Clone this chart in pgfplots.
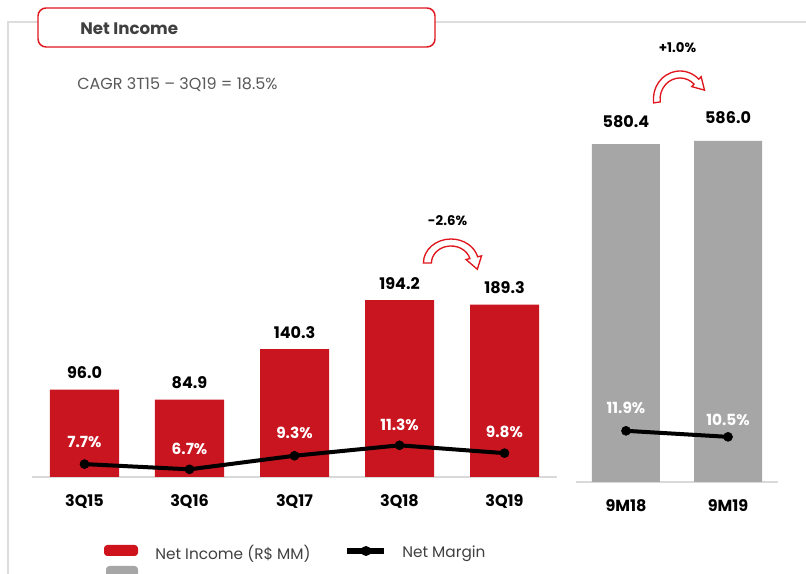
\documentclass[border=0pt]{standalone}
\usepackage{pgfplots}
\pgfplotsset{compat=1.18}
\usepackage{pgfplotstable}
\usepackage{fontspec}
\setmainfont{Poppins}
\definecolor{barred}{HTML}{C8151F}
\definecolor{linered}{HTML}{E0161E}
\definecolor{bargray}{HTML}{A6A6A6}
\definecolor{basegray}{HTML}{D9D9D9}
\definecolor{framegray}{HTML}{DDDDDD}
\definecolor{titlegray}{HTML}{404040}
\definecolor{textgray}{HTML}{595959}
\newcommand\lab{\fontsize{12}{14}\selectfont\bfseries}
\newcommand\plab{\fontsize{11.5}{13}\selectfont\bfseries}

\pgfplotstableread{
x y off
0 7.7 16.7
1 6.7 15
2 9.3 17
3 11.3 15
4 9.8 16
}\marginQ
\pgfplotstableread{
x y off
0 11.9 17
1 10.5 11
}\marginM

% cx, cy, R, r, start, end, xscale
\newcommand\hollowarrow[7]{%
\begin{scope}[shift={(#1,#2)}, xscale=#7]
 \pgfmathsetmacro\mm{(#3+#4)/2}
 \pgfmathsetmacro\ww{(#3-#4)/2}
 \pgfmathsetmacro\ro{#3+\ww}
 \pgfmathsetmacro\ri{#4-\ww}
 \pgfmathsetmacro\tx{\mm*cos(#6)+12*sin(#6)}
 \pgfmathsetmacro\ty{\mm*sin(#6)-12*cos(#6)}
 \draw[linered, line width=1pt, fill=white, line join=miter]
   (#5:#4) -- (#5:#3) arc[start angle=#5, end angle=#6, radius=#3]
   -- (#6:\ro) -- (\tx,\ty) -- (#6:\ri) -- (#6:#4)
   arc[start angle=#6, end angle=#5, radius=#4] -- cycle;
\end{scope}}

\begin{document}
\begin{tikzpicture}[x=0.75pt,y=0.75pt]
\path[use as bounding box] (0,0) rectangle (806,574);
% frame
\draw[framegray, line width=1.1pt] (8,0) -- (8,552) -- (806,552);
% title box
\draw[linered, line width=1.1pt, fill=white, rounded corners=6] (38,527) rectangle (435,566);
\node[anchor=west, text=titlegray, font=\fontsize{12.5}{14}\selectfont\bfseries, inner sep=0] at (80,545) {Net Income};
\node[anchor=west, text=textgray, font=\fontsize{12}{14}\selectfont, inner sep=0] at (77,489) {CAGR 3T15 – 3Q19 = 18.5\%};

% left bars
\begin{axis}[at={(24pt,72.75pt)}, anchor=south west, scale only axis,
  width=393.75pt, height=170.81pt, xmin=-0.5, xmax=4.5, ymin=0, ymax=250,
  axis x line*=bottom, axis y line=none,
  x axis line style={draw=basegray, line width=1.5pt, -},
  xtick=data, xticklabels={3Q15,3Q16,3Q17,3Q18,3Q19}, major tick length=0pt,
  xtick style={draw=none},
  xticklabel style={font=\lab, anchor=base, yshift=-22.5pt},
  ytick=\empty, clip=false, ybar, bar width=51.75pt,
  /pgf/number format/assume math mode=true,
  nodes near coords={\pgfmathprintnumber[fixed,fixed zerofill,precision=1]{\pgfplotspointmeta}},
  nodes near coords style={font=\lab, anchor=base, inner sep=0pt, yshift=8.25pt, text=black}]
\addplot[fill=barred, draw=none] coordinates {(0,96.0) (1,84.9) (2,140.3) (3,194.2) (4,189.3)};
\end{axis}
% left margin line
\begin{axis}[at={(24pt,72.75pt)}, anchor=south west, scale only axis,
  width=393.75pt, height=170.81pt, xmin=-0.5, xmax=4.5, ymin=5.23, ymax=48.86,
  hide axis, clip=false, /pgf/number format/assume math mode=true]
\addplot[black, line width=3pt, mark=*, mark size=3.4pt, mark options={line width=0.4pt},
  visualization depends on={\thisrow{off}\as\off},
  nodes near coords={\pgfmathprintnumber[fixed,fixed zerofill,precision=1]{\pgfplotspointmeta}\%},
  nodes near coords style={font=\plab, text=white, anchor=base, inner sep=0pt, yshift=0.75pt*\off}]
  table[x=x,y=y] {\marginQ};
\end{axis}

% right bars
\begin{axis}[at={(432pt,69pt)}, anchor=south west, scale only axis,
  width=151.5pt, height=305.55pt, xmin=-0.49, xmax=1.49, ymin=0, ymax=700,
  axis x line*=bottom, axis y line=none,
  x axis line style={draw=basegray, line width=1.5pt, -},
  xtick=data, xticklabels={9M18,9M19}, major tick length=0pt,
  xtick style={draw=none},
  xticklabel style={font=\lab, anchor=base, yshift=-22.5pt},
  ytick=\empty, clip=false, ybar, bar width=51pt,
  /pgf/number format/assume math mode=true,
  nodes near coords={\pgfmathprintnumber[fixed,fixed zerofill,precision=1]{\pgfplotspointmeta}},
  nodes near coords style={font=\lab, anchor=base, inner sep=0pt, yshift=12.75pt, text=black}]
\addplot[fill=bargray, draw=none] coordinates {(0,580.4) (1,586.0)};
\end{axis}
\begin{axis}[at={(432pt,69pt)}, anchor=south west, scale only axis,
  width=151.5pt, height=305.55pt, xmin=-0.49, xmax=1.49, ymin=0, ymax=94.74,
  hide axis, clip=false, /pgf/number format/assume math mode=true]
\addplot[black, line width=3pt, mark=*, mark size=3.4pt, mark options={line width=0.4pt},
  visualization depends on={\thisrow{off}\as\off},
  nodes near coords={\pgfmathprintnumber[fixed,fixed zerofill,precision=1]{\pgfplotspointmeta}\%},
  nodes near coords style={font=\plab, text=white, anchor=base, inner sep=0pt, yshift=0.75pt*\off}]
  table[x=x,y=y] {\marginM};
\end{axis}

% growth arrows
\hollowarrow{451}{311}{24}{17}{180}{15}{1.15}
\hollowarrow{680}{475}{28}{21}{188}{45}{0.95}
\node[font=\fontsize{10}{12}\selectfont\bfseries] at (447.5,353) {-2.6\%};
\node[font=\fontsize{10}{12}\selectfont\bfseries] at (677.5,526) {+1.0\%};

% legend
\fill[barred!90!red, rounded corners=2.5] (104,18) rectangle (138,29);
\fill[bargray, rounded corners=2.5] (106,-4) rectangle (138,8);
\node[anchor=west, text=titlegray, font=\fontsize{11.5}{13}\selectfont, inner sep=0] at (155,20) {Net Income (R\$ MM)};
\draw[black, line width=4.3pt] (347,23) -- (384,23);
\fill[black] (366,23) circle[radius=5];
\node[anchor=west, text=titlegray, font=\fontsize{11.5}{13}\selectfont, inner sep=0] at (402,20) {Net Margin};
\end{tikzpicture}
\end{document}
